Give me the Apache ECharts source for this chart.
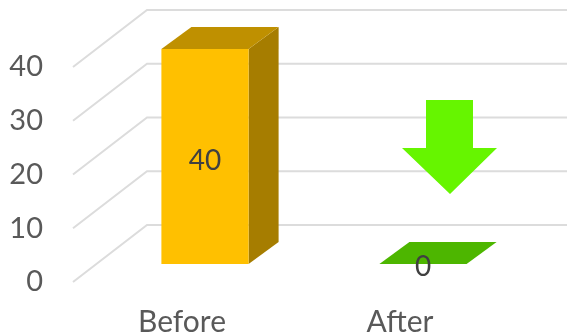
<!DOCTYPE html>
<html>
<head>
<meta charset="utf-8">
<style>
  html, body { margin: 0; padding: 0; background: #fff; }
  #chart { width: 567px; height: 334px; }
</style>
<script src="https://cdn.jsdelivr.net/npm/echarts@6/dist/echarts.min.js"></script>
</head>
<body>
<div id="chart"></div>
<script>
const categories = ['Before', 'After']
const values = [40, 0]
const barColors = ['#FFC000', '#66F200']
const yTicks = [0, 10, 20, 30, 40]
const arrowColor = '#66F500'

// depth offsets for the fake 3d look
const WALL = [74, -57]
const BAR_FRONT = [23, -18]
const BAR_DEPTH = [30, -22]

const shade = (hex, k) => {
  const n = parseInt(hex.slice(1), 16)
  const r = Math.round(((n >> 16) & 255) * k)
  const g = Math.round(((n >> 8) & 255) * k)
  const b = Math.round((n & 255) * k)
  return `rgb(${r},${g},${b})`
}

const chart = echarts.init(document.getElementById('chart'))

const renderGrid = (params, api) => {
  const cs = params.coordSys
  const y = api.coord([0, api.value(1)])[1]
  const x0 = cs.x
  return {
    type: 'polyline',
    shape: {
      points: [
        [x0, y],
        [x0 + WALL[0], y + WALL[1]],
        [cs.x + cs.width + WALL[0] + 20, y + WALL[1]]
      ]
    },
    style: { stroke: '#DCDCDC', lineWidth: 2, fill: null }
  }
}

const renderBar = (params, api) => {
  const idx = api.value(0)
  const val = api.value(1)
  const base = api.coord([idx, 0])
  const top = api.coord([idx, val])
  const half = api.size([1, 0])[0] * 0.2
  const x1 = base[0] - half + BAR_FRONT[0]
  const x2 = base[0] + half + BAR_FRONT[0]
  const yb = base[1] + BAR_FRONT[1]
  const yt = top[1] + BAR_FRONT[1]
  const dx = BAR_DEPTH[0]
  const dy = BAR_DEPTH[1]
  const color = barColors[idx]
  const children = []
  if (yb - yt > 0.5) {
    children.push({
      type: 'polygon',
      shape: { points: [[x2, yt], [x2 + dx, yt + dy], [x2 + dx, yb + dy], [x2, yb]] },
      style: { fill: shade(color, 0.65) }
    })
    children.push({
      type: 'rect',
      shape: { x: x1, y: yt, width: x2 - x1, height: yb - yt },
      style: { fill: color }
    })
  }
  children.push({
    type: 'polygon',
    shape: { points: [[x1, yt], [x2, yt], [x2 + dx, yt + dy], [x1 + dx, yt + dy]] },
    style: { fill: shade(color, 0.75) }
  })
  children.push({
    type: 'text',
    x: (x1 + x2) / 2,
    y: yb - yt > 0.5 ? (yt + yb) / 2 + 4 : yb + 3,
    style: {
      text: String(val),
      fill: '#404040',
      font: '28px Lato',
      align: 'center',
      verticalAlign: 'middle'
    }
  })
  return { type: 'group', children }
}

const renderArrow = (params, api) => {
  const p = api.coord([api.value(0), 0])
  const x = p[0]
  const y = p[1]
  return {
    type: 'polygon',
    shape: {
      points: [
        [x + 26, y - 182], [x + 73, y - 182], [x + 73, y - 134], [x + 97, y - 134],
        [x + 50, y - 88], [x + 2, y - 134], [x + 26, y - 134]
      ]
    },
    style: { fill: arrowColor }
  }
}

const option = {
  animation: false,
  grid: { left: 73, right: 58, top: 67, bottom: 52, outerBoundsMode: 'none', containLabel: false },
  xAxis: {
    type: 'category',
    data: categories,
    axisLine: { show: false },
    axisTick: { show: false },
    axisLabel: { color: '#595959', fontSize: 30, fontFamily: 'Lato', margin: 25 }
  },
  yAxis: {
    type: 'value',
    min: 0,
    max: 40,
    interval: 10,
    axisLine: { show: false },
    axisTick: { show: false },
    splitLine: { show: false },
    axisLabel: { color: '#595959', fontSize: 29, fontFamily: 'Lato', margin: 30, padding: [14, 0, 0, 0] }
  },
  series: [
    {
      type: 'custom',
      name: 'walls',
      renderItem: renderGrid,
      data: yTicks.map(v => [0, v]),
      clip: false,
      silent: true,
      z: 1
    },
    {
      type: 'custom',
      name: 'bars',
      renderItem: renderBar,
      data: values.map((v, i) => [i, v]),
      clip: false,
      z: 2
    },
    {
      type: 'custom',
      name: 'arrow',
      renderItem: renderArrow,
      data: [[1, values[1]]],
      clip: false,
      silent: true,
      z: 3
    }
  ]
}

chart.setOption(option)
window.addEventListener('resize', () => chart.resize())
</script>
</body>
</html>
